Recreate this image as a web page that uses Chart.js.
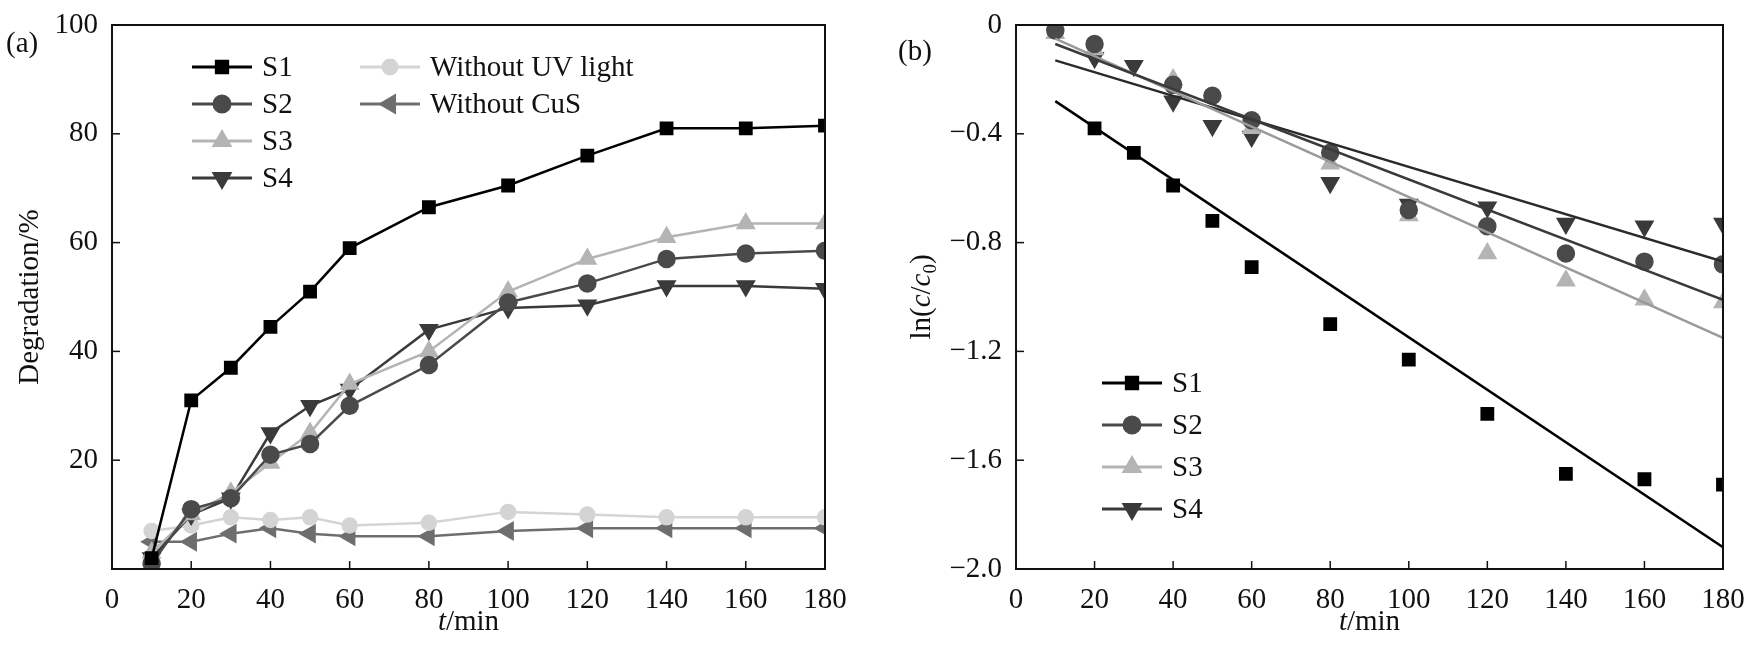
<!DOCTYPE html>
<html><head><meta charset="utf-8">
<script src="https://cdn.jsdelivr.net/npm/chart.js@4.4.0/dist/chart.umd.min.js"></script>
<style>body{margin:0;background:#fff;width:1760px;height:655px;overflow:hidden}
.c{position:absolute;top:0;width:880px;height:655px}</style></head><body>
<div class="c" style="left:0"><canvas id="a"></canvas></div>
<div class="c" style="left:880px"><canvas id="b"></canvas></div>
<script>
const times = [10,20,30,40,50,60,80,100,120,140,160,180];
const degS1 = [2,31,37,44.5,51,59,66.5,70.5,76,81,81,81.5];
const degS2 = [1,11,13,21,23,30,37.5,49,52.5,57,58,58.5];
const degS3 = [3,10,14,19.5,25,34,40,51,57,61,63.5,63.5];
const degS4 = [2,10,13,25,30,33,44,48,48.5,52,52,51.5];
const degNoUV = [7,8,9.5,9,9.5,8,8.5,10.5,10,9.5,9.5,9.5];
const degNoCuS = [5,5,6.5,7.5,6.5,6,6,7,7.5,7.5,7.5,7.5];
const lnS1 = [null,-0.38,-0.47,-0.59,-0.72,-0.89,-1.10,-1.23,-1.43,-1.65,-1.67,-1.69];
const lnS2 = [-0.02,-0.07,null,-0.22,-0.26,-0.35,-0.47,-0.68,-0.74,-0.84,-0.87,-0.88];
const lnS3 = [-0.03,-0.09,null,-0.20,null,-0.38,-0.51,-0.70,-0.84,-0.94,-1.01,-1.02];
const lnS4 = [-0.01,-0.12,-0.15,-0.28,-0.37,-0.41,-0.58,-0.66,-0.67,-0.73,-0.74,-0.73];
const fitT = [10,180];
const fitS1 = [-0.28,-1.92];
const fitS2 = [-0.07,-1.01];
const fitS3 = [-0.05,-1.15];
const fitS4 = [-0.13,-0.87];
const xTicks = [0,20,40,60,80,100,120,140,160,180];

const FONT = '"Times New Roman", "Liberation Serif", Times, serif';
const FS = 29;
const styles = {
  S1:{c:'#000',p:'rect',r:8,rot:0},
  S2:{c:'#4a4a4a',p:'circle',r:8,rot:0},
  S3:{c:'#b4b4b4',p:'triangle',r:9,rot:0},
  S4:{c:'#3a3a3a',p:'triangle',r:9,rot:180},
  UV:{c:'#d4d4d4',p:'circle',r:7,rot:0},
  CuS:{c:'#6e6e6e',p:'triangle',r:9,rot:270}
};
const pts = (ys)=>times.map((t,i)=>ys[i]==null?null:{x:t,y:ys[i]}).filter(Boolean);
function ds(label, ys, st, showLine){
  return {label, data:pts(ys), borderColor:st.c, backgroundColor:st.c, pointStyle:st.p,
    pointRadius:st.r, pointRotation:st.rot, borderWidth:2.5, showLine, tension:0, legend:true};
}
function fit(ys, c){
  return {label:'', data:fitT.map((t,i)=>({x:t,y:ys[i]})), borderColor:c, borderWidth:2.5,
    pointRadius:0, showLine:true, legend:false};
}
function framePlugin(opts){
  return {id:'frame', afterDraw(ch){
    const {ctx, chartArea:a, scales} = ch;
    ctx.save(); ctx.strokeStyle='#111'; ctx.lineWidth=2;
    ctx.strokeRect(a.left,a.top,a.right-a.left,a.bottom-a.top);
    ctx.lineWidth=1.5;
    scales.x.ticks.forEach(t=>{const x=scales.x.getPixelForValue(t.value);
      ctx.beginPath();ctx.moveTo(x,a.bottom);ctx.lineTo(x,a.bottom-8);ctx.stroke();});
    scales.y.ticks.forEach(t=>{const y=scales.y.getPixelForValue(t.value);
      ctx.beginPath();ctx.moveTo(a.left,y);ctx.lineTo(a.left+8,y);ctx.stroke();});
    ctx.fillStyle='#111'; ctx.textBaseline='alphabetic';
    ctx.font='italic '+FS+'px '+FONT; const tw=ctx.measureText('t').width;
    ctx.font=FS+'px '+FONT; const mw=ctx.measureText('/min').width;
    const cx=(a.left+a.right)/2 - (tw+mw)/2;
    ctx.font='italic '+FS+'px '+FONT; ctx.fillText('t',cx,630);
    ctx.font=FS+'px '+FONT; ctx.fillText('/min',cx+tw,630);
    ctx.font=FS+'px '+FONT; ctx.fillText(opts.panel, opts.px, opts.py);
    ctx.save(); ctx.translate(opts.yx,(a.top+a.bottom)/2); ctx.rotate(-Math.PI/2);
    opts.ytitle(ctx); ctx.restore();
    const items = ch.data.datasets.filter(d=>d.legend);
    items.forEach((d,i)=>{
      const L = opts.legend(i);
      ctx.strokeStyle=d.borderColor; ctx.lineWidth=3;
      ctx.beginPath();ctx.moveTo(L.x,L.y);ctx.lineTo(L.x+60,L.y);ctx.stroke();
      ctx.fillStyle=d.backgroundColor;
      Chart.helpers.drawPoint(ctx,{pointStyle:d.pointStyle,radius:d.pointRadius,rotation:d.pointRotation,borderWidth:1},L.x+30,L.y);
      ctx.fillStyle='#111'; ctx.font=FS+'px '+FONT; ctx.textBaseline='middle';
      ctx.fillText(d.label,L.x+70,L.y+1); ctx.textBaseline='alphabetic';
    });
    ctx.restore();
  }};
}
function baseOpts(ymin,ymax,ystep,yfmt,right,yw){
  return {responsive:false, animation:false, events:[],
    layout:{padding:{left:0,top:25,right:right,bottom:0}},
    plugins:{legend:{display:false},tooltip:{enabled:false}},
    scales:{
      x:{type:'linear',min:0,max:180,afterBuildTicks:s=>{s.ticks=xTicks.map(v=>({value:v}));},
        grid:{display:false},border:{display:false},
        ticks:{color:'#111',font:{family:FONT,size:FS},padding:6,maxRotation:0},
        afterFit:s=>{s.height=655-569;}},
      y:{type:'linear',min:ymin,max:ymax,grid:{display:false},border:{display:false},
        ticks:{stepSize:ystep,color:'#111',font:{family:FONT,size:FS},padding:6,callback:yfmt},
        afterFit:s=>{s.width=yw;}}
    }};
}
function mk(id,w){const c=document.getElementById(id);c.width=w;c.height=655;return c;}

new Chart(mk('a',880),{type:'scatter',
  data:{datasets:[ds('S1',degS1,styles.S1,true),ds('S2',degS2,styles.S2,true),ds('S3',degS3,styles.S3,true),
    ds('S4',degS4,styles.S4,true),ds('Without UV light',degNoUV,styles.UV,true),ds('Without CuS',degNoCuS,styles.CuS,true)]},
  options:baseOpts(0,100,20,v=>v===0?'':String(v),55,112),
  plugins:[framePlugin({panel:'(a)',px:6,py:52,yx:38,
    ytitle:ctx=>{ctx.font=FS+'px '+FONT;ctx.textAlign='center';ctx.fillText('Degradation/%',0,0);},
    legend:i=>i<4?{x:192,y:67+i*37}:{x:360,y:67+(i-4)*37}})]});

new Chart(mk('b',880),{type:'scatter',
  data:{datasets:[fit(fitS1,'#000'),fit(fitS2,'#3a3a3a'),fit(fitS3,'#9a9a9a'),fit(fitS4,'#2a2a2a'),
    ds('S1',lnS1,styles.S1,false),ds('S2',lnS2,styles.S2,false),ds('S3',lnS3,styles.S3,false),ds('S4',lnS4,styles.S4,false)]},
  options:baseOpts(-2,0,0.4,v=>Math.abs(v)<1e-9?'0':'\u2212'+Math.abs(v).toFixed(1),880-843,136),
  plugins:[framePlugin({panel:'(b)',px:18,py:60,yx:50,
    ytitle:ctx=>{ctx.font=FS+'px '+FONT;ctx.textAlign='left';
      const parts=[['ln(',''],['c','italic '],['/',''],['c','italic ']];
      const ws=parts.map(p=>{ctx.font=p[1]+FS+'px '+FONT;return ctx.measureText(p[0]).width;});
      ctx.font='19px '+FONT;const w0=ctx.measureText('0').width;ctx.font=FS+'px '+FONT;const wc=ctx.measureText(')').width;
      const tot=ws.reduce((a,b)=>a+b,0)+w0+wc;let x=-tot/2;
      parts.forEach((p,i)=>{ctx.font=p[1]+FS+'px '+FONT;ctx.fillText(p[0],x,0);x+=ws[i];});
      ctx.font='19px '+FONT;ctx.fillText('0',x,6);x+=w0;ctx.font=FS+'px '+FONT;ctx.fillText(')',x,0);},
    legend:i=>({x:222,y:383+i*42})})]});
</script></body></html>
